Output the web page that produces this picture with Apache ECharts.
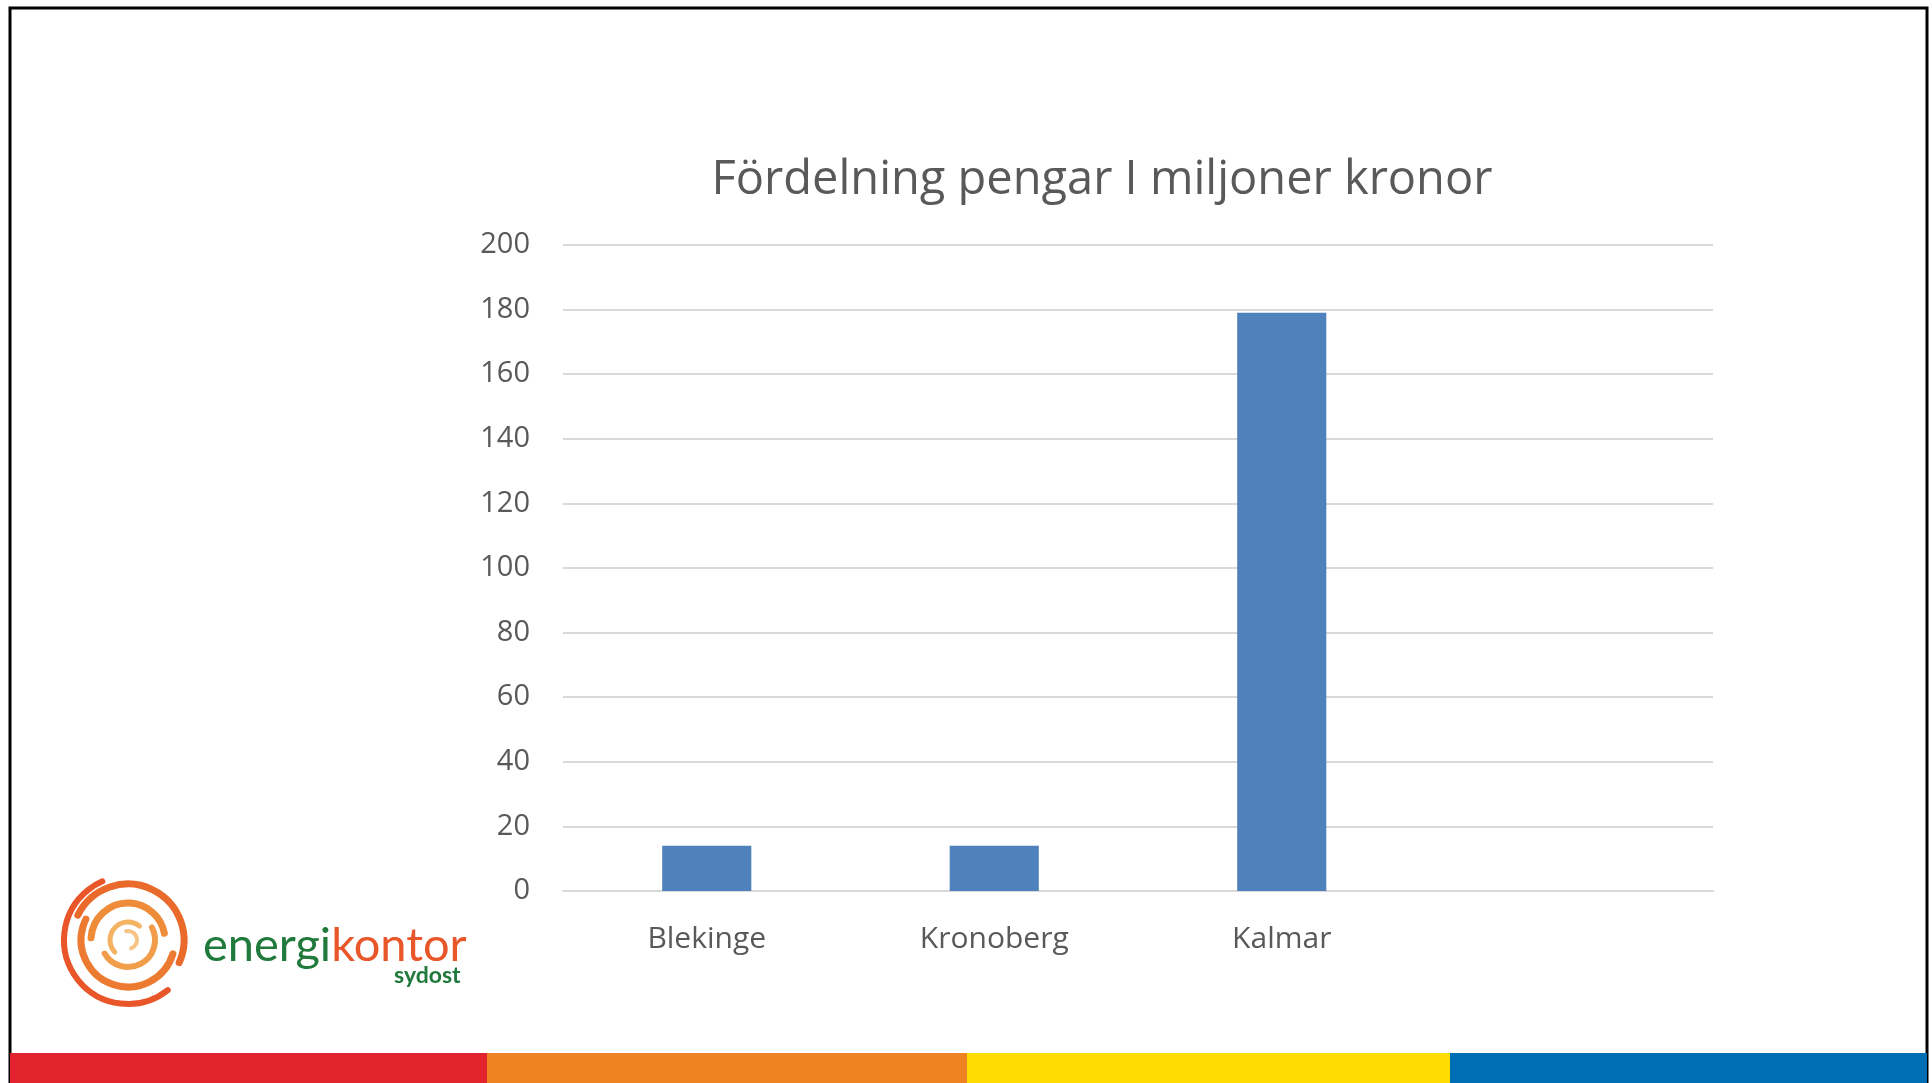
<!DOCTYPE html>
<html>
<head>
<meta charset="utf-8">
<script src="https://cdn.jsdelivr.net/npm/echarts@6/dist/echarts.min.js"></script>
<style>
  html, body { margin: 0; padding: 0; background: #fff; }
  #main { width: 1932px; height: 1083px; }
</style>
</head>
<body>
<div id="main"></div>
<script>
const categories = ['Blekinge', 'Kronoberg', 'Kalmar', '']
const values = [14, 14, 179, null]
const yTicks = { min: 0, max: 200, interval: 20 }

const chart = echarts.init(document.getElementById('main'))

// swirl of the logo, drawn as a few arcs
const swirl = [
  { r: 64, s: 0.9, e: 4.3, w: 6, c: '#e8562a' },
  { r: 56, s: 3.6, e: 6.7, w: 7, c: '#ea6a2c' },
  { r: 47, s: 0.3, e: 3.6, w: 7, c: '#ec7a30' },
  { r: 37, s: 3.2, e: 6.1, w: 7, c: '#ef8c3a' },
  { r: 27, s: 5.8, e: 8.9, w: 6, c: '#f29d4a' },
  { r: 18, s: 2.4, e: 5.4, w: 5, c: '#f4b263' },
  { r: 9, s: 4.5, e: 7.5, w: 4, c: '#f6c485' }
].map(a => ({
  type: 'arc',
  silent: true,
  shape: { cx: 128, cy: 940, r: a.r, startAngle: a.s, endAngle: a.e },
  style: { stroke: a.c, lineWidth: a.w, fill: null, lineCap: 'round' }
}))

const option = {
  backgroundColor: '#fff',
  animation: false,
  title: {
    text: 'Fördelning pengar I miljoner kronor',
    left: 1097,
    top: 152,
    textAlign: 'center',
    textStyle: {
      fontFamily: 'Open Sans',
      fontSize: 47,
      fontWeight: 'normal',
      color: '#595959'
    }
  },
  grid: {
    left: 563,
    right: 219,
    top: 245,
    bottom: 192
  },
  xAxis: {
    type: 'category',
    data: categories,
    axisTick: { show: false },
    axisLine: { lineStyle: { color: '#d9d9d9', width: 2 } },
    axisLabel: {
      color: '#595959',
      fontFamily: 'Open Sans',
      fontSize: 30,
      margin: 33
    }
  },
  yAxis: {
    type: 'value',
    min: yTicks.min,
    max: yTicks.max,
    interval: yTicks.interval,
    axisLine: { show: false },
    axisTick: { show: false },
    axisLabel: {
      color: '#595959',
      fontFamily: 'Open Sans',
      fontSize: 29,
      margin: 33,
      verticalAlign: 'middle',
      padding: [10, 0, 0, 0]
    },
    splitLine: { lineStyle: { color: '#d9d9d9', width: 2 } }
  },
  series: [
    {
      type: 'bar',
      data: values,
      barWidth: '31%',
      itemStyle: { color: '#4f81bd' }
    }
  ],
  graphic: [
    // slide frame
    {
      type: 'rect',
      silent: true,
      shape: { x: 10, y: 8, width: 1917, height: 1090 },
      style: { fill: null, stroke: '#000', lineWidth: 3 }
    },
    // colour strip at the bottom
    { type: 'rect', shape: { x: 10, y: 1053, width: 477, height: 30 }, style: { fill: '#e2222d' } },
    { type: 'rect', shape: { x: 487, y: 1053, width: 480, height: 30 }, style: { fill: '#ee8421' } },
    { type: 'rect', shape: { x: 967, y: 1053, width: 483, height: 30 }, style: { fill: '#ffdd00' } },
    { type: 'rect', shape: { x: 1450, y: 1053, width: 477, height: 30 }, style: { fill: '#006eb5' } },
    // logo
    ...swirl,
    {
      type: 'text',
      silent: true,
      x: 203,
      y: 922,
      style: {
        text: '{g|energi}{o|kontor}',
        rich: {
          g: { fill: '#1f7a3c', fontSize: 47, fontFamily: 'Lato' },
          o: { fill: '#e8562a', fontSize: 47, fontFamily: 'Lato' }
        }
      }
    },
    {
      type: 'text',
      silent: true,
      x: 394,
      y: 964,
      style: {
        text: 'sydost',
        fill: '#1f7a3c',
        fontSize: 23,
        fontWeight: 'bold',
        fontFamily: 'Lato'
      }
    }
  ]
}

chart.setOption(option)
</script>
</body>
</html>
